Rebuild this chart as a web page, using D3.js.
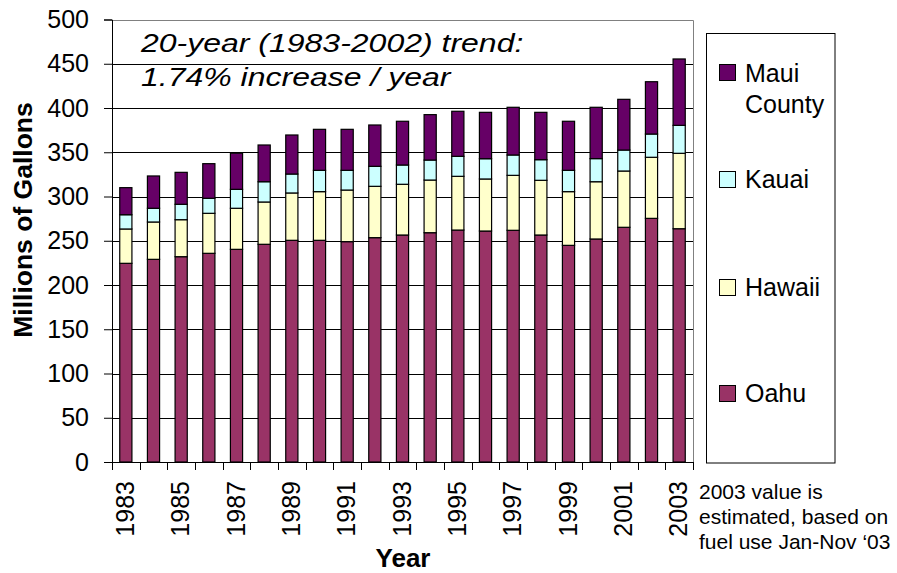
<!DOCTYPE html>
<html><head><meta charset="utf-8">
<script src="https://cdn.jsdelivr.net/npm/d3@7"></script>
<style>
html,body{margin:0;padding:0;background:#fff;}
svg{display:block;font-family:"Liberation Sans",Arial,sans-serif;}
</style></head>
<body>
<svg id="chart" width="897" height="573"></svg>
<script>
const years = [1983,1984,1985,1986,1987,1988,1989,1990,1991,1992,1993,1994,1995,1996,1997,1998,1999,2000,2001,2002,2003];
const oahu   = [224.5,229.0,232.0,235.8,240.3,246.0,250.5,250.5,249.0,253.5,256.5,259.1,262.1,261.0,261.8,256.5,244.8,252.0,265.2,275.3,263.6];
const hawaii = [38.8,42.2,41.8,45.2,46.4,47.8,53.5,55.0,58.3,58.0,57.3,59.5,60.7,58.8,62.1,61.8,60.7,64.7,63.6,69.0,85.2];
const kauai  = [16.1,15.5,17.4,17.0,21.4,22.9,21.4,24.1,22.3,22.6,21.8,22.6,22.6,22.9,23.0,23.3,24.1,26.1,23.7,26.3,31.6];
const maui   = [30.6,36.5,36.1,39.1,40.8,41.5,44.1,46.3,46.3,46.7,49.4,51.3,50.9,52.4,53.9,53.5,55.4,58.0,57.3,59.1,75.0];
const seriesNames = ["Oahu","Hawaii","Kauai","Maui County"];
const seriesColors = ["#993366","#FFFFCC","#CCFFFF","#660066"];
const yTicks = [0,50,100,150,200,250,300,350,400,450,500];
const xLabelYears = [1983,1985,1987,1989,1991,1993,1995,1997,1999,2001,2003];
const titleLines = ["20-year (1983-2002) trend:","1.74% increase / year"];
const noteLines = ["2003 value is","estimated, based on","fuel use Jan-Nov \u201803"];
const yTitle = "Millions of Gallons";
const xTitle = "Year";

const svg = d3.select("#chart");
const L = 112, R = 693, T = 19.5, B = 462;

const x = d3.scaleBand().domain(years).range([L, R]).paddingInner(0.56).paddingOuter(0.28);
const y = d3.scaleLinear().domain([0, 500]).range([B, T]);

// gridlines
svg.append("g").selectAll("line").data(yTicks.filter(d => d > 0 && d < 500)).join("line")
  .attr("x1", L).attr("x2", R)
  .attr("y1", d => Math.round(y(d)) + 0.5).attr("y2", d => Math.round(y(d)) + 0.5)
  .attr("stroke", "#000").attr("stroke-width", 1);
// plot border top & right (grey)
svg.append("path")
  .attr("d", `M${L},${Math.round(T)+0.5}H${R+0.5}V${B}`)
  .attr("fill", "none").attr("stroke", "#808080").attr("stroke-width", 1);

// stacked bars
const rows = years.map((yr, i) => ({year: yr, Oahu: oahu[i], Hawaii: hawaii[i], Kauai: kauai[i], "Maui County": maui[i]}));
const stack = d3.stack().keys(seriesNames)(rows);
svg.append("g").selectAll("g").data(stack).join("g")
  .attr("fill", (d, i) => seriesColors[i])
  .selectAll("rect").data(d => d).join("rect")
  .attr("x", d => x(d.data.year))
  .attr("width", x.bandwidth())
  .attr("y", d => y(d[1]))
  .attr("height", d => y(d[0]) - y(d[1]))
  .attr("stroke", "#000").attr("stroke-width", 1.2);

// y axis
const yAxis = d3.axisLeft(y).tickValues(yTicks).tickSize(8).tickPadding(15).tickFormat(d3.format("d"));
const gy = svg.append("g").attr("transform", `translate(${L},0)`).call(yAxis);
gy.select(".domain").attr("stroke", "#000");
gy.selectAll(".tick line").attr("stroke", "#000");
gy.selectAll("text").attr("font-size", 25).attr("fill", "#000").attr("font-family", "Liberation Sans, Arial, sans-serif");

// x axis line and ticks at category boundaries
svg.append("line").attr("x1", L).attr("x2", R + 0.5).attr("y1", B + 0.5).attr("y2", B + 0.5).attr("stroke", "#000");
const step = x.step();
svg.append("g").selectAll("line").data(d3.range(years.length + 1)).join("line")
  .attr("x1", i => Math.round(L + i * step) + 0.5).attr("x2", i => Math.round(L + i * step) + 0.5)
  .attr("y1", B).attr("y2", B + 8).attr("stroke", "#000");
svg.append("g").selectAll("text").data(xLabelYears).join("text")
  .attr("transform", d => `translate(${x(d) + x.bandwidth() / 2 + 8},481) rotate(-90)`)
  .attr("text-anchor", "end").attr("font-size", 25).attr("fill", "#000")
  .text(d => d);

// axis titles
svg.append("text").attr("transform", "translate(32,220) rotate(-90)")
  .attr("text-anchor", "middle").attr("font-size", 26.5).attr("font-weight", "bold").text(yTitle);
svg.append("text").attr("x", 403).attr("y", 567)
  .attr("text-anchor", "middle").attr("font-size", 26).attr("font-weight", "bold").text(xTitle);

// trend annotation
svg.append("g").attr("transform", "translate(141,0) scale(1.28,1)")
  .selectAll("text").data(titleLines).join("text")
  .attr("x", 0).attr("y", (d, i) => 52 + i * 34)
  .attr("font-size", 25).attr("font-style", "italic").text(d => d);

// legend
svg.append("rect").attr("x", 706.5).attr("y", 33.5).attr("width", 128.5).attr("height", 429.5)
  .attr("fill", "none").attr("stroke", "#000").attr("stroke-width", 1);
const legendItems = [
  {i: 3, sq: 64, lines: ["Maui", "County"], base: 82},
  {i: 2, sq: 171, lines: ["Kauai"], base: 188},
  {i: 1, sq: 279, lines: ["Hawaii"], base: 296},
  {i: 0, sq: 385, lines: ["Oahu"], base: 402}
];
const lg = svg.append("g").selectAll("g").data(legendItems).join("g");
lg.append("rect").attr("x", 719.5).attr("y", d => d.sq + 0.5).attr("width", 16).attr("height", 16)
  .attr("fill", d => seriesColors[d.i]).attr("stroke", "#000").attr("stroke-width", 1);
lg.each(function(d) {
  d3.select(this).selectAll("text").data(d.lines).join("text")
    .attr("x", 745).attr("y", (t, k) => d.base + k * 31)
    .attr("font-size", 25).attr("fill", "#000").text(t => t);
});

// note
svg.append("g").selectAll("text").data(noteLines).join("text")
  .attr("x", 699).attr("y", (d, i) => 499 + i * 25)
  .attr("font-size", 21).attr("fill", "#000").text(d => d);
</script>
</body></html>
